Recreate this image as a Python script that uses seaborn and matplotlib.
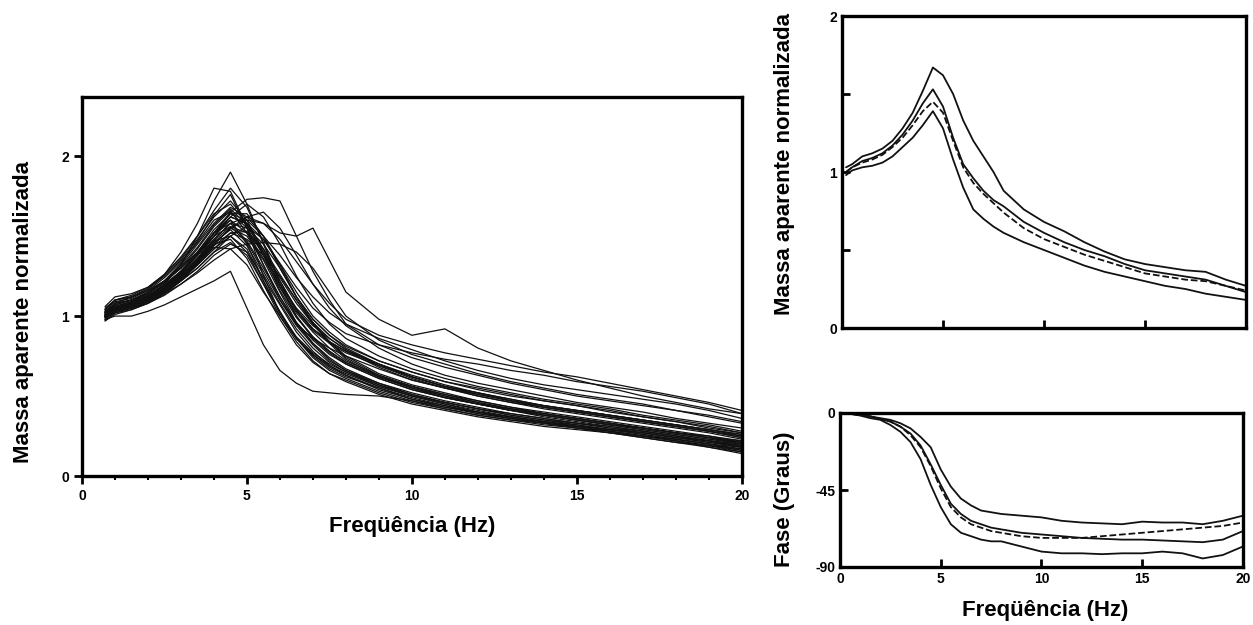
import numpy as np
import pandas as pd
import matplotlib
matplotlib.use("Agg")
import matplotlib.pyplot as plt
import seaborn as sns

# ---------------- data ----------------
# Left panel: individual normalised apparent-mass curves
freq_ind = [0.7, 1.0, 1.5, 2.0, 2.5, 3.0, 3.5, 4.0, 4.5, 5.0, 5.5, 6.0, 6.5, 7.0,
            7.5, 8.0, 9.0, 10, 11, 12, 13, 14, 15, 16, 17, 18, 19, 20]

c01 = [1.00,1.05,1.08,1.12,1.20,1.32,1.50,1.72,1.90,1.70,1.45,1.20,1.00,0.86,0.77,0.70,0.61,0.54,0.49,0.45,0.41,0.37,0.34,0.31,0.28,0.25,0.22,0.19]
c02 = [1.02,1.08,1.10,1.15,1.22,1.30,1.40,1.52,1.65,1.73,1.74,1.72,1.50,1.28,1.10,0.95,0.82,0.74,0.68,0.63,0.58,0.54,0.50,0.47,0.44,0.41,0.37,0.33]
c03 = [1.00,1.05,1.08,1.12,1.18,1.26,1.35,1.45,1.55,1.60,1.58,1.52,1.50,1.55,1.35,1.15,0.98,0.88,0.92,0.80,0.72,0.66,0.60,0.55,0.50,0.46,0.42,0.39]
c04 = [0.98,1.00,1.00,1.03,1.07,1.12,1.17,1.22,1.28,1.05,0.82,0.66,0.58,0.53,0.52,0.51,0.50,0.47,0.43,0.40,0.37,0.34,0.31,0.28,0.25,0.22,0.18,0.14]
c05 = [1.02,1.06,1.09,1.14,1.21,1.30,1.40,1.52,1.60,1.45,1.22,1.02,0.87,0.77,0.70,0.65,0.57,0.50,0.45,0.41,0.37,0.34,0.31,0.29,0.26,0.23,0.20,0.17]
c06 = [1.00,1.03,1.06,1.10,1.16,1.24,1.33,1.45,1.55,1.50,1.35,1.15,0.96,0.83,0.73,0.66,0.57,0.51,0.46,0.42,0.38,0.35,0.32,0.29,0.27,0.24,0.21,0.18]
c07 = [1.05,1.10,1.12,1.17,1.25,1.35,1.48,1.62,1.72,1.60,1.40,1.18,1.00,0.87,0.78,0.71,0.62,0.55,0.50,0.45,0.41,0.38,0.35,0.32,0.29,0.26,0.23,0.20]
c08 = [0.97,1.02,1.05,1.08,1.13,1.20,1.28,1.38,1.45,1.40,1.20,1.00,0.84,0.72,0.64,0.59,0.51,0.45,0.41,0.37,0.34,0.31,0.29,0.27,0.24,0.21,0.18,0.15]
c09 = [1.03,1.08,1.10,1.15,1.22,1.32,1.45,1.58,1.68,1.62,1.50,1.32,1.12,0.98,0.88,0.80,0.70,0.62,0.56,0.51,0.47,0.43,0.40,0.37,0.34,0.31,0.28,0.25]
c10 = [1.00,1.04,1.07,1.11,1.17,1.26,1.36,1.48,1.58,1.55,1.45,1.30,1.12,0.96,0.84,0.74,0.63,0.56,0.50,0.46,0.42,0.39,0.36,0.33,0.30,0.27,0.24,0.21]
c11 = [1.01,1.06,1.08,1.13,1.20,1.28,1.38,1.50,1.62,1.70,1.62,1.45,1.25,1.08,0.95,0.86,0.75,0.67,0.61,0.56,0.52,0.48,0.45,0.42,0.38,0.35,0.32,0.28]
c12 = [0.99,1.02,1.04,1.08,1.14,1.22,1.30,1.40,1.50,1.42,1.22,1.02,0.86,0.75,0.67,0.62,0.55,0.48,0.44,0.40,0.36,0.33,0.31,0.28,0.25,0.23,0.20,0.16]
c13 = [1.04,1.09,1.11,1.16,1.24,1.34,1.46,1.60,1.65,1.55,1.38,1.20,1.05,0.94,0.86,0.79,0.69,0.61,0.55,0.51,0.47,0.43,0.40,0.37,0.34,0.31,0.28,0.24]
c14 = [1.00,1.05,1.07,1.10,1.15,1.22,1.32,1.44,1.52,1.48,1.38,1.25,1.10,0.95,0.83,0.73,0.62,0.55,0.49,0.45,0.41,0.38,0.35,0.32,0.29,0.26,0.23,0.21]
c15 = [1.02,1.07,1.10,1.14,1.22,1.33,1.47,1.63,1.76,1.55,1.25,1.02,0.86,0.76,0.69,0.64,0.56,0.50,0.45,0.40,0.37,0.34,0.32,0.29,0.27,0.24,0.21,0.19]
c16 = [0.98,1.03,1.06,1.10,1.16,1.25,1.36,1.50,1.62,1.58,1.42,1.22,1.04,0.92,0.84,0.78,0.68,0.60,0.55,0.50,0.46,0.42,0.39,0.36,0.33,0.30,0.27,0.23]
c17 = [1.00,1.04,1.07,1.12,1.18,1.26,1.35,1.45,1.55,1.62,1.65,1.55,1.38,1.20,1.05,0.94,0.80,0.70,0.63,0.58,0.54,0.50,0.46,0.43,0.40,0.36,0.33,0.30]
c18 = [1.03,1.06,1.09,1.13,1.19,1.28,1.38,1.50,1.56,1.46,1.28,1.10,0.94,0.82,0.72,0.66,0.58,0.51,0.46,0.42,0.39,0.36,0.33,0.30,0.28,0.25,0.22,0.19]
c19 = [1.00,1.05,1.08,1.12,1.19,1.28,1.40,1.54,1.64,1.60,1.50,1.38,1.24,1.12,1.02,0.95,0.86,0.79,0.72,0.66,0.61,0.57,0.54,0.51,0.48,0.45,0.41,0.36]
c20 = [1.01,1.03,1.05,1.09,1.15,1.23,1.33,1.45,1.48,1.36,1.16,0.98,0.82,0.71,0.64,0.60,0.52,0.46,0.42,0.38,0.35,0.32,0.30,0.27,0.24,0.21,0.19,0.16]
c21 = [1.06,1.12,1.14,1.18,1.26,1.36,1.50,1.66,1.80,1.68,1.46,1.22,1.04,0.92,0.84,0.78,0.70,0.63,0.57,0.52,0.48,0.44,0.41,0.38,0.35,0.32,0.29,0.26]
c22 = [0.99,1.04,1.06,1.10,1.17,1.25,1.34,1.43,1.42,1.32,1.15,1.00,0.86,0.76,0.68,0.63,0.55,0.49,0.44,0.39,0.36,0.34,0.31,0.29,0.26,0.23,0.20,0.18]
c23 = [1.00,1.04,1.06,1.10,1.16,1.24,1.32,1.42,1.50,1.56,1.48,1.32,1.15,1.00,0.90,0.82,0.72,0.65,0.59,0.54,0.50,0.47,0.44,0.41,0.37,0.34,0.31,0.27]
c24 = [1.02,1.08,1.12,1.16,1.22,1.30,1.42,1.56,1.66,1.52,1.32,1.12,0.96,0.85,0.76,0.70,0.61,0.54,0.49,0.45,0.42,0.38,0.35,0.32,0.30,0.27,0.24,0.20]
c25 = [1.00,1.03,1.05,1.09,1.14,1.20,1.27,1.35,1.42,1.45,1.46,1.45,1.40,1.30,1.15,1.00,0.85,0.76,0.70,0.64,0.59,0.55,0.51,0.48,0.45,0.41,0.38,0.34]
c26 = [0.97,1.01,1.04,1.08,1.14,1.22,1.30,1.40,1.46,1.38,1.20,1.03,0.86,0.74,0.66,0.61,0.53,0.47,0.42,0.38,0.35,0.33,0.30,0.28,0.25,0.22,0.19,0.17]
c27 = [1.04,1.10,1.13,1.18,1.26,1.37,1.50,1.64,1.70,1.58,1.38,1.16,0.99,0.87,0.78,0.71,0.62,0.56,0.51,0.46,0.42,0.39,0.36,0.33,0.30,0.27,0.24,0.22]
c28 = [1.01,1.05,1.08,1.12,1.18,1.27,1.38,1.50,1.60,1.52,1.36,1.18,1.02,0.90,0.80,0.72,0.63,0.56,0.51,0.47,0.43,0.39,0.36,0.33,0.30,0.27,0.25,0.21]
c29 = [1.00,1.05,1.08,1.12,1.18,1.27,1.38,1.52,1.62,1.58,1.48,1.33,1.18,1.05,0.96,0.89,0.82,0.77,0.73,0.70,0.66,0.63,0.59,0.56,0.53,0.49,0.45,0.39]
c30 = [1.02,1.06,1.09,1.13,1.19,1.28,1.39,1.52,1.58,1.47,1.30,1.12,0.95,0.83,0.74,0.67,0.58,0.52,0.47,0.43,0.39,0.36,0.33,0.31,0.28,0.25,0.22,0.20]
c31 = [0.99,1.03,1.05,1.09,1.15,1.23,1.32,1.42,1.52,1.53,1.42,1.26,1.10,0.96,0.86,0.79,0.70,0.62,0.56,0.52,0.47,0.44,0.41,0.38,0.35,0.32,0.29,0.26]
c32 = [1.03,1.07,1.10,1.14,1.21,1.31,1.43,1.57,1.67,1.57,1.40,1.20,1.03,0.91,0.83,0.77,0.69,0.62,0.56,0.52,0.48,0.44,0.41,0.38,0.35,0.32,0.29,0.25]
c33 = [1.00,1.04,1.06,1.10,1.16,1.24,1.34,1.46,1.54,1.44,1.26,1.08,0.92,0.80,0.71,0.65,0.56,0.50,0.46,0.42,0.38,0.35,0.33,0.30,0.27,0.24,0.22,0.18]
c34 = [1.04,1.10,1.12,1.17,1.26,1.40,1.58,1.80,1.78,1.56,1.32,1.10,0.95,0.86,0.80,0.75,0.67,0.60,0.55,0.50,0.46,0.43,0.40,0.37,0.34,0.31,0.28,0.24]
c35 = [1.01,1.04,1.07,1.11,1.17,1.25,1.35,1.47,1.56,1.52,1.40,1.24,1.08,0.95,0.84,0.75,0.64,0.57,0.52,0.47,0.43,0.40,0.37,0.34,0.31,0.28,0.25,0.22]
c36 = [1.00,1.04,1.07,1.11,1.17,1.25,1.36,1.48,1.58,1.62,1.58,1.48,1.34,1.20,1.08,0.98,0.88,0.82,0.77,0.73,0.69,0.65,0.62,0.58,0.54,0.50,0.46,0.41]
c37 = [1.02,1.05,1.07,1.11,1.17,1.26,1.36,1.47,1.50,1.40,1.24,1.07,0.90,0.78,0.69,0.63,0.54,0.48,0.43,0.39,0.36,0.33,0.30,0.27,0.25,0.22,0.19,0.15]
c38 = [0.98,1.03,1.06,1.11,1.18,1.27,1.38,1.52,1.64,1.64,1.50,1.30,1.12,0.98,0.88,0.81,0.72,0.65,0.59,0.55,0.51,0.47,0.44,0.40,0.37,0.34,0.30,0.27]

individual_curves = [c01, c02, c03, c04, c05, c06, c07, c08, c09, c10, c11, c12, c13,
                     c14, c15, c16, c17, c18, c19, c20, c21, c22, c23, c24, c25, c26,
                     c27, c28, c29, c30, c31, c32, c33, c34, c35, c36, c37, c38]

# Right-top panel: summary apparent mass (mean +/- sd, mean, median)
freq_sum = [0.2, 0.5, 1.0, 1.5, 2.0, 2.5, 3.0, 3.5, 4.0, 4.5, 5.0, 5.5, 6.0, 6.5, 7.0,
            7.5, 8.0, 9.0, 10, 11, 12, 13, 14, 15, 16, 17, 18, 19, 20]
mass_upper  = [1.03,1.05,1.10,1.12,1.15,1.20,1.28,1.38,1.52,1.67,1.62,1.50,1.33,1.20,1.10,1.00,0.88,0.76,0.68,0.62,0.55,0.49,0.44,0.41,0.39,0.37,0.36,0.31,0.27]
mass_mean   = [1.00,1.03,1.07,1.09,1.12,1.17,1.24,1.33,1.44,1.53,1.42,1.22,1.05,0.96,0.88,0.82,0.78,0.68,0.61,0.55,0.50,0.46,0.41,0.37,0.35,0.33,0.31,0.27,0.23]
mass_median = [1.00,1.03,1.06,1.08,1.11,1.16,1.22,1.30,1.39,1.45,1.38,1.20,1.03,0.93,0.86,0.80,0.74,0.64,0.57,0.52,0.47,0.43,0.39,0.35,0.33,0.31,0.30,0.27,0.24]
mass_lower  = [0.98,1.01,1.03,1.04,1.06,1.10,1.16,1.22,1.30,1.39,1.28,1.08,0.90,0.76,0.70,0.65,0.61,0.55,0.50,0.45,0.40,0.36,0.33,0.30,0.27,0.25,0.22,0.20,0.18]

# Right-bottom panel: phase (degrees)
freq_phase = [0, 0.5, 1.0, 1.5, 2.0, 2.5, 3.0, 3.5, 4.0, 4.5, 5.0, 5.5, 6.0, 6.5, 7.0,
              7.5, 8.0, 9.0, 10, 11, 12, 13, 14, 15, 16, 17, 18, 19, 20]
phase_upper  = [0,-0.5,-1,-2,-3,-4,-6,-9,-14,-20,-33,-43,-50,-54,-57,-58,-59,-60,-61,-63,-64,-64.5,-65,-63.5,-64,-64,-65,-63,-60]
phase_mean   = [0,-0.5,-1,-2,-3.5,-5,-8,-12,-19,-30,-42,-53,-59,-63,-65,-67,-68,-70,-71,-72,-73,-73.5,-74,-74,-74.5,-75,-75.5,-74,-69]
phase_median = [0,-0.5,-1,-2,-3.5,-5,-8,-13,-20,-31,-44,-55,-61,-65,-67,-69,-70,-72,-73,-73,-73,-72,-71,-70,-69,-68,-67,-66,-64]
phase_lower  = [0,-0.5,-1.5,-3,-4,-7,-11,-17,-27,-42,-55,-65,-70,-72,-74,-75,-75,-78,-81,-82,-82,-82.5,-82,-82,-81,-82,-85,-83,-78]

# ---------------- figure ----------------
sns.set_style("ticks")
plt.rcParams["font.family"] = ["Liberation Sans", "DejaVu Sans"]
plt.rcParams["font.weight"] = "bold"
plt.rcParams["axes.unicode_minus"] = False
plt.rcParams["text.color"] = "black"
plt.rcParams["axes.labelcolor"] = "black"
plt.rcParams["xtick.color"] = "black"
plt.rcParams["ytick.color"] = "black"

fig = plt.figure(figsize=(12.53, 6.25), dpi=100)
ax1 = fig.add_axes([0.0654, 0.2384, 0.5267, 0.6064])
ax2 = fig.add_axes([0.6720, 0.4752, 0.3224, 0.4992])
ax3 = fig.add_axes([0.6704, 0.0928, 0.3216, 0.2464])

line_col = "#111111"
lab_fs = 16
tick_fs = 10

# Left panel
rows = []
for i, c in enumerate(individual_curves):
    for f, m in zip(freq_ind, c):
        rows.append((i, f, m))
df_ind = pd.DataFrame(rows, columns=["subj", "freq", "mass"])
sns.lineplot(data=df_ind, x="freq", y="mass", units="subj", estimator=None,
             color=line_col, lw=0.9, ax=ax1)
ax1.set_xlim(0, 20)
ax1.set_ylim(0, 2.37)
ax1.set_xticks([0, 5, 10, 15, 20])
ax1.set_xticks(np.arange(0, 21, 1), minor=True)
ax1.set_yticks([0, 1, 2])
ax1.tick_params(axis="both", which="major", direction="out", length=6, width=2,
                labelsize=tick_fs, colors="black")
ax1.tick_params(axis="x", which="minor", direction="out", length=3, width=1.5)
ax1.set_xlabel("Freqüência (Hz)", fontsize=lab_fs, fontweight="bold", color="black")
ax1.set_ylabel("Massa aparente normalizada", fontsize=lab_fs, fontweight="bold",
               color="black")
ax1.xaxis.set_label_coords(0.5, -0.106)
ax1.yaxis.set_label_coords(-0.073, 0.433)

# Right-top panel
df_sum = pd.DataFrame({"freq": freq_sum, "upper": mass_upper, "mean": mass_mean,
                       "median": mass_median, "lower": mass_lower})
for col, ls in [("upper", "-"), ("mean", "-"), ("median", "--"), ("lower", "-")]:
    sns.lineplot(data=df_sum, x="freq", y=col, color=line_col, lw=1.3,
                 linestyle=ls, ax=ax2)
ax2.set_xlim(0, 20)
ax2.set_ylim(0, 2)
ax2.set_xticks([5, 10, 15])
ax2.set_xticklabels([])
ax2.set_yticks([0, 0.5, 1, 1.5, 2])
ax2.set_yticklabels(["0", "", "1", "", "2"])
ax2.tick_params(axis="both", direction="in", length=6, width=2, labelsize=tick_fs,
                colors="black")
ax2.set_xlabel("")
ax2.set_ylabel("Massa aparente normalizada", fontsize=lab_fs, fontweight="bold",
               color="black")
ax2.yaxis.set_label_coords(-0.116, 0.526)

# Right-bottom panel
df_ph = pd.DataFrame({"freq": freq_phase, "upper": phase_upper, "mean": phase_mean,
                      "median": phase_median, "lower": phase_lower})
for col, ls in [("upper", "-"), ("mean", "-"), ("median", "--"), ("lower", "-")]:
    sns.lineplot(data=df_ph, x="freq", y=col, color=line_col, lw=1.3,
                 linestyle=ls, ax=ax3)
ax3.set_xlim(0, 20)
ax3.set_ylim(-90, 0)
ax3.set_xticks([0, 5, 10, 15, 20])
ax3.set_yticks([-90, -45, 0])
ax3.tick_params(axis="both", direction="in", length=6, width=2, labelsize=tick_fs,
                colors="black")
ax3.set_xlabel("Freqüência (Hz)", fontsize=lab_fs, fontweight="bold", color="black")
ax3.set_ylabel("Fase (Graus)", fontsize=lab_fs, fontweight="bold", color="black")
ax3.xaxis.set_label_coords(0.509, -0.214)
ax3.yaxis.set_label_coords(-0.112, 0.44)

for ax in (ax1, ax2, ax3):
    for sp in ax.spines.values():
        sp.set_visible(True)
        sp.set_linewidth(2.4)
        sp.set_color("black")
    for lbl in ax.get_xticklabels() + ax.get_yticklabels():
        lbl.set_fontweight("bold")

fig.savefig("out.png", dpi=100, facecolor="white")
